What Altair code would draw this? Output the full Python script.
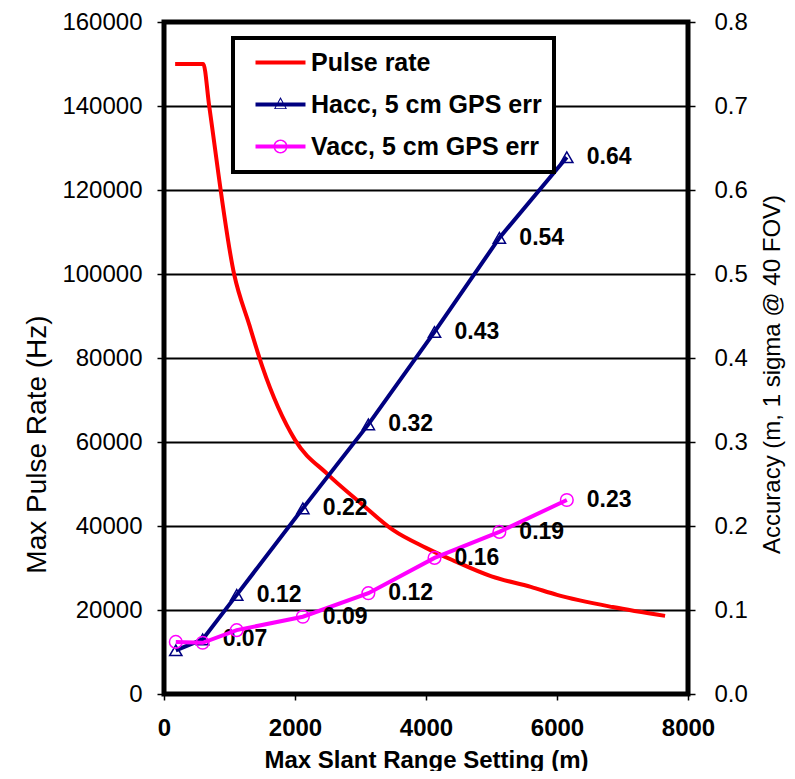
import altair as alt
import pandas as pd

FONT = "Liberation Sans"

# ---- data ----
pulse_range = [170, 600, 690, 1070, 1300, 1500, 2000, 2500, 3000, 3500, 4000, 4400, 5000, 5600, 6000, 6850, 7650]
pulse_rate = [150000, 150000, 140000, 100000, 88000, 78000, 60500, 52300, 45500, 39000, 34800, 31900, 28000, 25500, 23600, 20700, 18600]

acc_range = [180, 590, 1110, 2120, 3120, 4130, 5120, 6150]
hacc = [0.052, 0.065, 0.118, 0.221, 0.321, 0.431, 0.543, 0.639]
hacc_labels = ["", "0.07", "0.12", "0.22", "0.32", "0.43", "0.54", "0.64"]
vacc = [0.062, 0.061, 0.076, 0.092, 0.120, 0.162, 0.193, 0.231]
vacc_labels = ["", "", "", "0.09", "0.12", "0.16", "0.19", "0.23"]

series_names = ["Pulse rate", "Hacc, 5 cm GPS err", "Vacc, 5 cm GPS err"]
series_colors = ["#FF0000", "#000080", "#FF00FF"]

x_ticks = [0, 2000, 4000, 6000, 8000]
left_ticks = [0, 20000, 40000, 60000, 80000, 100000, 120000, 140000, 160000]
right_ticks = [0.0, 0.1, 0.2, 0.3, 0.4, 0.5, 0.6, 0.7, 0.8]

# legend glyphs: line with hollow marker (custom symbol paths)
legend_paths = [
    "M-2.083,-0.1667H2.083V0.1667H-2.083Z",
    "M-2.083,-0.1667H2.083V0.1667H-2.083Z"
    "M-0.54,0.375L0,-0.625L0.54,0.375Z"
    "M-0.415,0.31L0.415,0.31L0,-0.44Z",
    "M-2.083,-0.1667H2.083V0.1667H-2.083Z"
    "M0.583,0A0.583,0.583,0,1,1,-0.583,0A0.583,0.583,0,1,1,0.583,0Z"
    "M0.458,0A0.458,0.458,0,1,0,-0.458,0A0.458,0.458,0,1,0,0.458,0Z",
]

pulse_df = pd.DataFrame({"range": pulse_range, "value": pulse_rate})
hacc_df = pd.DataFrame({"range": acc_range, "acc": hacc, "label": hacc_labels})
vacc_df = pd.DataFrame({"range": acc_range, "acc": vacc, "label": vacc_labels})
legend_df = pd.DataFrame({"series": series_names})

x_enc = alt.X(
    "range:Q",
    scale=alt.Scale(domain=[0, 8000], nice=False),
    axis=alt.Axis(values=x_ticks, format="d", title="Max Slant Range Setting (m)",
                  labelFontWeight="bold", titleFontWeight="bold", tickSize=6,
                  labelPadding=16, titlePadding=8, grid=False, labelFlush=False),
)

y_left = alt.Y(
    "value:Q",
    scale=alt.Scale(domain=[0, 160000], nice=False),
    axis=alt.Axis(orient="left", values=left_ticks, format="d", title="Max Pulse Rate (Hz)",
                  titleFontSize=28, titleY=422,
                  grid=True, gridColor="black", gridWidth=2, tickSize=7,
                  labelPadding=15, titlePadding=10, labelFlush=False),
)
y_right = alt.Y(
    "acc:Q",
    scale=alt.Scale(domain=[0, 0.8], nice=False),
    axis=alt.Axis(orient="right", values=right_ticks, format=".1f",
                  title="Accuracy (m, 1 sigma @ 40 FOV)", titleAngle=270, titleBaseline="top",
                  titleY=352,
                  grid=False, tickSize=7, labelPadding=19, titlePadding=13, labelFlush=False),
)

pulse_line = alt.Chart(pulse_df).mark_line(
    strokeWidth=4, interpolate="monotone", color=series_colors[0]
).encode(x=x_enc, y=y_left)


def acc_layers(df, color, shape, size):
    line = alt.Chart(df).mark_line(strokeWidth=4, color=color).encode(x=x_enc, y=y_right)
    pts = alt.Chart(df).mark_point(shape=shape, filled=False, size=size, strokeWidth=1.5,
                                   opacity=1, color=color).encode(x=x_enc, y=y_right)
    txt = alt.Chart(df).transform_filter(alt.datum.label != "").mark_text(
        align="left", baseline="middle", dx=20, fontSize=23, fontWeight="bold",
        font=FONT, color="black").encode(x=x_enc, y=y_right, text="label:N")
    return [line, pts, txt]


# legend: fill + shape channels of an empty layer, explicit domains give the entries
leg = alt.Legend(title=None, orient="none", legendX=69, legendY=16)
legend_layer = alt.Chart(legend_df).transform_filter("false").mark_point(filled=True).encode(
    x=alt.value(0), y=alt.value(0),
    fill=alt.Fill("series:N", scale=alt.Scale(domain=series_names, range=series_colors), legend=leg),
    shape=alt.Shape("series:N", scale=alt.Scale(domain=series_names, range=legend_paths), legend=leg),
)

right_layer = alt.layer(
    *acc_layers(hacc_df, series_colors[1], "triangle-up", 150),
    *acc_layers(vacc_df, series_colors[2], "circle", 160),
    legend_layer,
)

chart = alt.layer(pulse_line, right_layer).resolve_scale(y="independent").properties(
    width=524, height=672,
    autosize=alt.AutoSizeParams(type="none"),
    padding={"left": 156, "top": 14, "right": 99, "bottom": 77},
    background="white",
).configure_view(
    stroke="black", strokeWidth=5
).configure_axis(
    labelFont=FONT, titleFont=FONT, labelFontSize=24, titleFontSize=24,
    labelColor="black", titleColor="black", tickColor="black", tickWidth=1.5,
    domain=False, titleFontWeight="normal",
).configure_legend(
    labelFont=FONT, labelFontSize=25, labelFontWeight="bold", labelColor="black",
    symbolSize=576, symbolStrokeWidth=0, symbolOpacity=1,
    padding=12, rowPadding=16, labelOffset=18, symbolOffset=23,
    strokeColor="black", strokeWidth=4, fillColor="white", labelLimit=400,
)

chart.save("out.html", embed_options={"renderer": "svg", "actions": False})
